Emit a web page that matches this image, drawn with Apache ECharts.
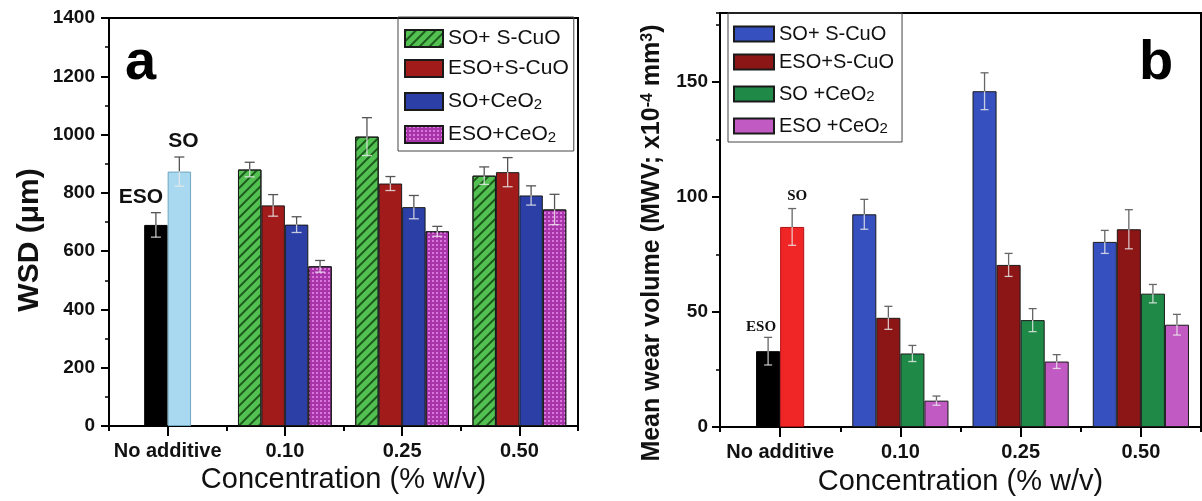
<!DOCTYPE html>
<html>
<head>
<meta charset="utf-8">
<script src="https://cdn.jsdelivr.net/npm/echarts@6/dist/echarts.min.js"></script>
<style>
html, body { margin: 0; padding: 0; background: #fff; }
#chart { width: 1202px; height: 501px; }
</style>
</head>
<body>
<div id="chart"></div>
<script>
var categories = ['No additive', '0.10', '0.25', '0.50'];

// panel a: WSD (um); "base" = ESO, SO without additive
var wsdBase = [690, 873];
var wsdBaseErr = [42, 50];
var wsdSoSCuo = [880, 993, 859];
var wsdSoSCuoErr = [25, 65, 30];
var wsdEsoSCuo = [757, 832, 871];
var wsdEsoSCuoErr = [37, 24, 50];
var wsdSoCeo2 = [691, 751, 791];
var wsdSoCeo2Err = [27, 40, 33];
var wsdEsoCeo2 = [548, 668, 743];
var wsdEsoCeo2Err = [20, 17, 52];

// panel b: mean wear volume (x10^-4 mm3)
var mwvBase = [33, 87];
var mwvBaseErr = [6, 8];
var mwvSoSCuo = [92.5, 146, 80.5];
var mwvSoSCuoErr = [6.5, 8, 5];
var mwvEsoSCuo = [47.5, 70.5, 86];
var mwvEsoSCuoErr = [5, 5, 8.5];
var mwvSoCeo2 = [32, 46.5, 58];
var mwvSoCeo2Err = [3.5, 5, 4];
var mwvEsoCeo2 = [11.5, 28.5, 44.5];
var mwvEsoCeo2Err = [2, 3, 4.5];

var legendA = ['SO+ S-CuO', 'ESO+S-CuO', 'SO+CeO2', 'ESO+CeO2'];
var legendB = ['SO+ S-CuO', 'ESO+S-CuO', 'SO +CeO2', 'ESO +CeO2'];

var BAR_FRAC = 0.2;
var FONT = '"Liberation Sans", Arial, sans-serif';

var colorsA = ['#52C152', '#A11B1B', '#2B3FA6', '#A834AA'];
var colorsB = ['#3651BF', '#8C1515', '#1F8A47', '#C25AC4'];

var decalA = [
  { symbol: 'rect', symbolSize: 1, dashArrayX: [1, 0], dashArrayY: [1.6, 4.5], rotation: -Math.PI / 4, color: '#1B5A1B' },
  null,
  null,
  { symbol: 'rect', symbolSize: 1, dashArrayX: [[2, 1.5]], dashArrayY: [2, 1.5], color: 'rgba(236,140,236,0.75)' }
];

var chart = echarts.init(document.getElementById('chart'));

function baseOnly(v) {
  return [v, null, null, null];
}
function withBase(vals) {
  return [null].concat(vals);
}

function errData(base, baseErr, groups, groupErrs) {
  var out = [];
  base.forEach(function (v, i) {
    out.push([0, v, baseErr[i], i, base.length]);
  });
  groups.forEach(function (g, s) {
    g.forEach(function (v, i) {
      out.push([i + 1, v, groupErrs[s][i], s, groups.length]);
    });
  });
  return out;
}

function errRender(capW, upColor, lowColor) {
  return function (params, api) {
    var ci = api.value(0), v = api.value(1), e = api.value(2);
    var slot = api.value(3), n = api.value(4);
    var w = api.size([1, 0])[0] * BAR_FRAC;
    var pt = api.coord([ci, v]);
    var hi = api.coord([ci, v + e]);
    var lo = api.coord([ci, v - e]);
    var x = pt[0] + (slot - (n - 1) / 2) * w;
    var up = { stroke: upColor, lineWidth: 1.3 };
    var low = { stroke: lowColor, lineWidth: 1.3 };
    return {
      type: 'group',
      children: [
        { type: 'line', shape: { x1: x, y1: pt[1], x2: x, y2: hi[1] }, style: up },
        { type: 'line', shape: { x1: x - capW / 2, y1: hi[1], x2: x + capW / 2, y2: hi[1] }, style: up },
        { type: 'line', shape: { x1: x, y1: pt[1], x2: x, y2: lo[1] }, style: low },
        { type: 'line', shape: { x1: x - capW / 2, y1: lo[1], x2: x + capW / 2, y2: lo[1] }, style: low }
      ]
    };
  };
}

// "a:SO+CeO2" -> rich text with subscript 2
function legendFmt(name) {
  var t = name.slice(2);
  if (/O2$/.test(t)) return '{t|' + t.slice(0, -1) + '}{sub|2}';
  return t;
}

function legendRich(size) {
  return {
    t: { fontSize: size, fontFamily: FONT, color: '#111', lineHeight: size, verticalAlign: 'top' },
    sub: { fontSize: 15, fontFamily: FONT, color: '#111', lineHeight: 15, padding: [9, 0, 0, 0], verticalAlign: 'bottom' }
  };
}

function catAxis(grid, nameGap) {
  return {
    type: 'category', gridIndex: grid, data: categories, position: 'bottom',
    axisLine: { show: true, lineStyle: { color: '#000', width: 2 } },
    axisTick: { show: true, inside: false, alignWithLabel: true, length: 10, lineStyle: { color: '#000', width: 2 } },
    axisLabel: { show: true, interval: 0, fontSize: 20, fontWeight: 'bold', color: '#111', margin: 15, fontFamily: FONT },
    name: 'Concentration (% w/v)', nameLocation: 'middle', nameGap: nameGap,
    nameTextStyle: { fontSize: 29, color: '#111', fontFamily: FONT }
  };
}
function boundaryAxis(grid) {
  return {
    type: 'category', gridIndex: grid, data: categories, position: 'bottom',
    axisLine: { show: false },
    axisTick: { show: true, inside: false, alignWithLabel: false, interval: 0, length: 5, lineStyle: { color: '#000', width: 2 } },
    axisLabel: { show: false }
  };
}

function plainNum(v) {
  return String(v);
}

var groupsA = [wsdSoSCuo, wsdEsoSCuo, wsdSoCeo2, wsdEsoCeo2];
var groupsAErr = [wsdSoSCuoErr, wsdEsoSCuoErr, wsdSoCeo2Err, wsdEsoCeo2Err];
var groupsB = [mwvSoSCuo, mwvEsoSCuo, mwvSoCeo2, mwvEsoCeo2];
var groupsBErr = [mwvSoSCuoErr, mwvEsoSCuoErr, mwvSoCeo2Err, mwvEsoCeo2Err];

var series = [];

// panel a
series.push({
  name: 'ESO-a', type: 'bar', xAxisIndex: 1, yAxisIndex: 0, data: baseOnly(wsdBase[0]),
  barWidth: '20%', barGap: 0,
  itemStyle: { color: '#000', borderColor: '#000', borderWidth: 1 },
  label: { show: true, position: 'top', distance: 17, offset: [-15, 0], formatter: 'ESO', fontSize: 21, fontWeight: 'bold', color: '#111', fontFamily: FONT }
});
series.push({
  name: 'SO-a', type: 'bar', xAxisIndex: 1, yAxisIndex: 0, data: baseOnly(wsdBase[1]),
  barWidth: '20%', barGap: 0,
  itemStyle: { color: '#A9D9F0', borderColor: '#6fa6c0', borderWidth: 1 },
  label: { show: true, position: 'top', distance: 20, offset: [4, 0], formatter: 'SO', fontSize: 21, fontWeight: 'bold', color: '#111', fontFamily: FONT }
});
groupsA.forEach(function (g, s) {
  var st = { color: colorsA[s], borderColor: '#1a1a1a', borderWidth: 1 };
  if (decalA[s]) st.decal = decalA[s];
  series.push({
    name: 'a:' + legendA[s], type: 'bar', xAxisIndex: 0, yAxisIndex: 0, data: withBase(g),
    barWidth: '20%', barGap: 0, itemStyle: st
  });
});
series.push({
  type: 'custom', xAxisIndex: 0, yAxisIndex: 0, z: 5,
  data: errData(wsdBase, wsdBaseErr, groupsA, groupsAErr),
  encode: { x: 0, y: 1 },
  renderItem: errRender(10, '#555', 'rgba(235,235,235,0.8)')
});

// panel b
series.push({
  name: 'ESO-b', type: 'bar', xAxisIndex: 3, yAxisIndex: 1, data: baseOnly(mwvBase[0]),
  barWidth: '20%', barGap: 0,
  itemStyle: { color: '#000', borderColor: '#000', borderWidth: 1 },
  label: { show: true, position: 'top', distance: 17, offset: [-7, 0], formatter: 'ESO', fontSize: 15, fontWeight: 'bold', color: '#111', fontFamily: '"Liberation Serif", serif' }
});
series.push({
  name: 'SO-b', type: 'bar', xAxisIndex: 3, yAxisIndex: 1, data: baseOnly(mwvBase[1]),
  barWidth: '20%', barGap: 0,
  itemStyle: { color: '#F02626', borderColor: '#b01010', borderWidth: 1 },
  label: { show: true, position: 'top', distance: 23, offset: [5, 0], formatter: 'SO', fontSize: 15, fontWeight: 'bold', color: '#111', fontFamily: '"Liberation Serif", serif' }
});
groupsB.forEach(function (g, s) {
  series.push({
    name: 'b:' + legendB[s], type: 'bar', xAxisIndex: 2, yAxisIndex: 1, data: withBase(g),
    barWidth: '20%', barGap: 0,
    itemStyle: { color: colorsB[s], borderColor: '#1a1a1a', borderWidth: 1 }
  });
});
series.push({
  type: 'custom', xAxisIndex: 2, yAxisIndex: 1, z: 5,
  data: errData(mwvBase, mwvBaseErr, groupsB, groupsBErr),
  encode: { x: 0, y: 1 },
  renderItem: errRender(8, '#666', 'rgba(235,235,235,0.8)')
});

var option = {
  animation: false,
  backgroundColor: '#fff',
  textStyle: { fontFamily: FONT },
  grid: [
    { left: 109, top: 18, width: 469, height: 408, show: true, borderColor: '#000', borderWidth: 2 },
    { left: 720, top: 13, width: 481, height: 417, show: true, borderColor: '#000', borderWidth: 2 }
  ],
  xAxis: [catAxis(0, 32), boundaryAxis(0), catAxis(1, 39), boundaryAxis(1)],
  yAxis: [
    {
      type: 'value', gridIndex: 0, min: 0, max: 1400, interval: 200, position: 'left',
      axisLine: { show: true, lineStyle: { color: '#000', width: 2 } },
      axisTick: { show: true, inside: false, length: 8, lineStyle: { color: '#000', width: 2 } },
      minorTick: { show: true, splitNumber: 2, length: 4, lineStyle: { color: '#000', width: 1.5 } },
      splitLine: { show: false },
      axisLabel: { fontSize: 19, fontWeight: 'bold', color: '#111', margin: 14, fontFamily: FONT, formatter: plainNum },
      name: 'WSD (\u03bcm)', nameLocation: 'middle', nameGap: 64,
      nameTextStyle: { fontSize: 30, fontWeight: 'bold', color: '#111', fontFamily: FONT, padding: [0, 36, 0, 0] }
    },
    {
      type: 'value', gridIndex: 1, min: 0, max: 180, interval: 50, position: 'left',
      axisLine: { show: true, lineStyle: { color: '#000', width: 2 } },
      axisTick: { show: true, inside: false, length: 8, lineStyle: { color: '#000', width: 2 } },
      splitLine: { show: false },
      axisLabel: { fontSize: 19, fontWeight: 'bold', color: '#111', margin: 12, fontFamily: FONT, showMaxLabel: false, formatter: plainNum },
      name: 'Mean wear volume (MWV; x10{sup|-4} mm{sup|3})', nameLocation: 'middle', nameGap: 55,
      nameTextStyle: {
        fontSize: 25, fontWeight: 'bold', color: '#111', fontFamily: FONT, padding: [0, 46, 0, 0],
        rich: {
          sup: { fontSize: 16, fontWeight: 'bold', color: '#111', fontFamily: FONT, lineHeight: 16, padding: [0, 0, 16, 0], verticalAlign: 'top' }
        }
      }
    },
    {
      type: 'value', gridIndex: 1, min: 0, max: 180, interval: 25, position: 'left',
      axisLine: { show: false },
      axisTick: { show: true, inside: false, length: 4, lineStyle: { color: '#000', width: 1.5 } },
      splitLine: { show: false },
      axisLabel: { show: false }
    }
  ],
  legend: [
    {
      data: legendA.map(function (n) { return 'a:' + n; }),
      orient: 'vertical', left: 398, top: 17, icon: 'rect',
      borderColor: '#444', borderWidth: 1, padding: [11, 5, 6, 6],
      itemWidth: 38, itemHeight: 17, itemGap: 9,
      formatter: legendFmt,
      textStyle: { fontSize: 21, color: '#111', fontFamily: FONT, rich: legendRich(21) }
    },
    {
      data: legendB.map(function (n) { return 'b:' + n; }),
      orient: 'vertical', left: 728, top: 13, icon: 'rect',
      borderColor: '#444', borderWidth: 1, padding: [11, 8, 6, 5],
      itemWidth: 40, itemHeight: 15, itemGap: 8,
      formatter: legendFmt,
      textStyle: { fontSize: 20, color: '#111', fontFamily: FONT, rich: legendRich(20) }
    }
  ],
  graphic: [
    { type: 'text', left: 125, top: 36, style: { text: 'a', font: 'bold 56px "Liberation Sans"', fill: '#000' } },
    { type: 'text', left: 1139, top: 36, style: { text: 'b', font: 'bold 56px "Liberation Sans"', fill: '#000' } }
  ],
  series: series
};

chart.setOption(option);
</script>
</body>
</html>
